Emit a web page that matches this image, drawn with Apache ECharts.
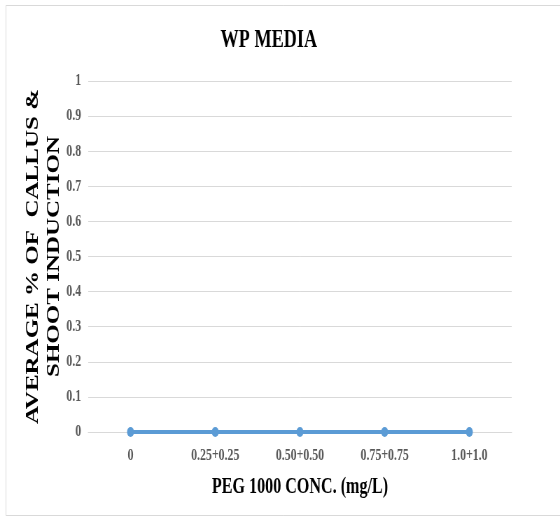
<!DOCTYPE html>
<html>
<head>
<meta charset="utf-8">
<script src="https://cdn.jsdelivr.net/npm/echarts@6/dist/echarts.min.js"></script>
<style>
html,body{margin:0;padding:0;background:#fff;overflow:hidden;width:560px;height:521px;}
/* chart is laid out wide and squeezed horizontally for a condensed look */
#chart{width:800px;height:521px;transform:scaleX(0.7);transform-origin:0 0;}
</style>
</head>
<body>
<div id="chart"></div>
<script>
// PEG 1000 concentrations (mg/L) and mean callus & shoot induction
const categories = ['0', '0.25+0.25', '0.50+0.50', '0.75+0.75', '1.0+1.0'];
const induction = [0, 0, 0, 0, 0];
const yTicks = { min: 0, max: 1, interval: 0.1 };

const serif = '"Liberation Serif", "DejaVu Serif", serif';
const chart = echarts.init(document.getElementById('chart'));
chart.setOption({
  animation: false,
  backgroundColor: '#fff',
  graphic: [{
    type: 'rect',
    shape: { x: 8.5, y: 5.5, width: 820, height: 510 },
    style: { fill: 'none', stroke: '#d9d9d9', lineWidth: 1 },
    silent: true
  }],
  title: {
    text: 'WP MEDIA',
    left: 310,
    top: 22,
    textStyle: { fontFamily: serif, fontSize: 26, fontWeight: 'bold', color: '#000' }
  },
  grid: { left: 126, right: 69, top: 81, bottom: 89, containLabel: false },
  xAxis: {
    type: 'category',
    data: categories,
    boundaryGap: true,
    axisLine: { show: true, lineStyle: { color: '#d9d9d9', width: 1 } },
    axisTick: { show: false },
    axisLabel: { fontFamily: serif, fontSize: 17, fontWeight: 'bold', color: '#595959', margin: 15 },
    name: 'PEG 1000 CONC. (mg/L)',
    nameLocation: 'middle',
    nameGap: 44,
    nameMoveOverlap: false,
    nameTextStyle: { fontFamily: serif, fontSize: 23, fontWeight: 'bold', color: '#000' }
  },
  yAxis: {
    type: 'value',
    min: yTicks.min,
    max: yTicks.max,
    interval: yTicks.interval,
    axisLine: { show: false },
    axisTick: { show: false },
    splitLine: { lineStyle: { color: '#d9d9d9', width: 1 } },
    axisLabel: { fontFamily: serif, fontSize: 17, fontWeight: 'bold', color: '#595959', margin: 10 },
    name: 'AVERAGE % OF  CALLUS &\nSHOOT INDUCTION',
    nameLocation: 'middle',
    nameRotate: 90,
    nameGap: 33,
    nameMoveOverlap: false,
    nameTextStyle: {
      fontFamily: serif, fontSize: 25, fontWeight: 'bold', color: '#000', lineHeight: 30
    }
  },
  series: [{
    type: 'line',
    data: induction,
    symbol: 'circle',
    symbolSize: 10,
    lineStyle: { color: '#5b9bd5', width: 4 },
    itemStyle: { color: '#5b9bd5' }
  }]
});
</script>
</body>
</html>
